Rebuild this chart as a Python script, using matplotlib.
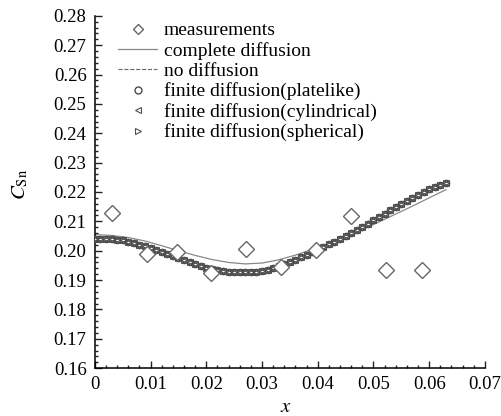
import matplotlib as mpl
mpl.use("Agg")
import matplotlib.pyplot as plt
from matplotlib.ticker import MultipleLocator, FuncFormatter

# measured Sn concentration
meas_x = [0.0030, 0.0093, 0.0147, 0.0209, 0.0271, 0.0334, 0.0397, 0.0459, 0.0522, 0.0587]
meas_y = [0.2128, 0.1989, 0.1994, 0.1923, 0.2006, 0.1945, 0.2002, 0.2119, 0.1934, 0.1934]

# complete diffusion (solid line)
full_x = [0.000, 0.003, 0.006, 0.009, 0.012, 0.015, 0.018, 0.021, 0.024, 0.027, 0.030,
          0.033, 0.036, 0.039, 0.042, 0.045, 0.048, 0.051, 0.054, 0.057, 0.060, 0.063]
full_y = [0.2055, 0.2052, 0.2045, 0.2033, 0.2017, 0.2000, 0.1984, 0.1970, 0.1960, 0.1955, 0.1958,
          0.1969, 0.1985, 0.2005, 0.2023, 0.2047, 0.2072, 0.2098, 0.2125, 0.2152, 0.2180, 0.2208]

# finite diffusion / no diffusion (all overlap)
fin_x = [i * 0.001 for i in range(64)]
fin_y = [0.2040, 0.2041, 0.2041, 0.2040, 0.2038, 0.2035, 0.2031, 0.2026, 0.2021, 0.2015,
         0.2008, 0.2002, 0.1995, 0.1988, 0.1981, 0.1975, 0.1968, 0.1961, 0.1954, 0.1948,
         0.1942, 0.1937, 0.1933, 0.1930, 0.1928, 0.1927, 0.1926, 0.1926, 0.1927, 0.1929,
         0.1932, 0.1936, 0.1941, 0.1947, 0.1954, 0.1961, 0.1969, 0.1977, 0.1986, 0.1995,
         0.2004, 0.2013, 0.2022, 0.2031, 0.2041, 0.2050, 0.2060, 0.2070, 0.2080, 0.2091,
         0.2103, 0.2114, 0.2126, 0.2137, 0.2148, 0.2159, 0.2170, 0.2180, 0.2190, 0.2200,
         0.2209, 0.2217, 0.2225, 0.2232]

plt.rcParams.update({
    "font.family": "Liberation Serif",
    "mathtext.fontset": "stix",
    "font.size": 13,
})

fig = plt.figure(figsize=(5.02, 4.16), dpi=100)
ax = fig.add_axes([0.189, 0.115, 0.777, 0.847])

gray = "#4d4d4d"
ax.plot(fin_x, fin_y, ls="--", color="#666666", lw=0.8, label="no diffusion", zorder=2)
ax.plot(full_x, full_y, ls="-", color="#888888", lw=0.9, label="complete diffusion", zorder=2)
ax.plot(fin_x, fin_y, ls="none", marker="o", ms=4.5, mfc="white", mec=gray, mew=1.0,
        label="finite diffusion(platelike)", zorder=3)
ax.plot(fin_x, fin_y, ls="none", marker="<", ms=4, mfc="none", mec=gray, mew=0.8,
        label="finite diffusion(cylindrical)", zorder=3)
ax.plot(fin_x, fin_y, ls="none", marker=">", ms=4, mfc="none", mec=gray, mew=0.8,
        label="finite diffusion(spherical)", zorder=3)
ax.plot(meas_x, meas_y, ls="none", marker="D", ms=8.5, mfc="white", mec="#666666", mew=1.0,
        label="measurements", zorder=4)

ax.set_xlim(0, 0.07)
ax.set_ylim(0.16, 0.28)
ax.xaxis.set_major_locator(MultipleLocator(0.01))
ax.xaxis.set_minor_locator(MultipleLocator(0.002))
ax.yaxis.set_major_locator(MultipleLocator(0.01))
ax.yaxis.set_minor_locator(MultipleLocator(0.002))
ax.xaxis.set_major_formatter(FuncFormatter(lambda v, p: "0" if abs(v) < 1e-9 else f"{v:.2f}"))
ax.yaxis.set_major_formatter(FuncFormatter(lambda v, p: f"{v:.2f}"))
ax.tick_params(which="both", direction="in", width=1.0, color="#222222", labelsize=13.5)
ax.tick_params(which="major", length=5, pad=6)
ax.tick_params(which="minor", length=2.5)
for s in ["top", "right"]:
    ax.spines[s].set_visible(False)
for s in ["left", "bottom"]:
    ax.spines[s].set_linewidth(1.1)

ax.set_xlabel(r"$x$", fontsize=15, labelpad=-1)
ax.xaxis.set_label_coords(0.49, -0.085)
ax.set_ylabel(r"$C_{\mathrm{Sn}}$", fontsize=15)
ax.yaxis.set_label_coords(-0.165, 0.52)

h, l = ax.get_legend_handles_labels()
order = [5, 1, 0, 2, 3, 4]
leg = ax.legend([h[i] for i in order], [l[i] for i in order], loc="upper left",
                bbox_to_anchor=(0.04, 1.005), frameon=False, fontsize=14,
                handlelength=2.0, handletextpad=0.35, labelspacing=0.13, borderaxespad=0)
for lh in leg.legend_handles:
    lh.set_markersize(5)

fig.savefig("out.png", dpi=100)
